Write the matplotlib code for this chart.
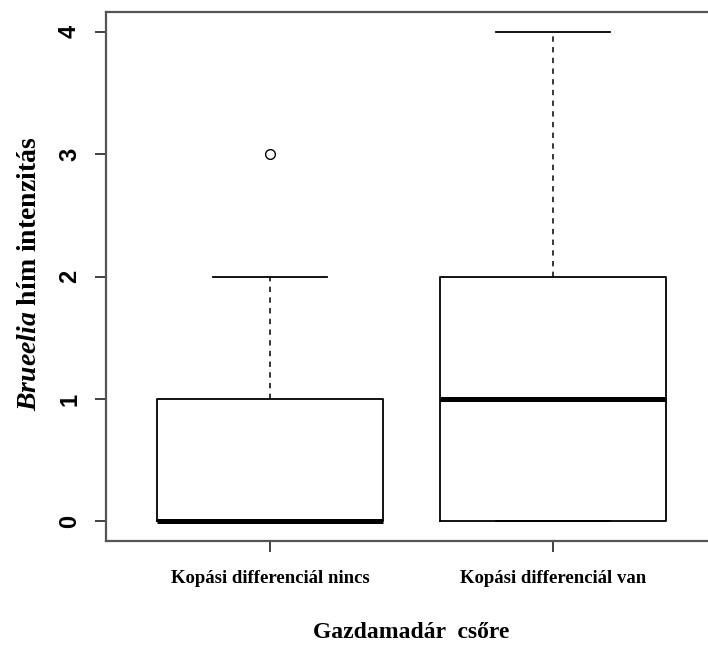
import matplotlib
matplotlib.use("Agg")
import matplotlib.pyplot as plt

# adatok (ötszámos összefoglaló csoportonként)
groups = ["Kopási differenciál nincs", "Kopási differenciál van"]
q1 = [0, 0]
median = [0, 1]
q3 = [1, 2]
whis_lo = [0, 0]
whis_hi = [2, 4]
outliers = [[3], []]
y_ticks = [0, 1, 2, 3, 4]

plt.rcParams["mathtext.fontset"] = "custom"
plt.rcParams["mathtext.bfit"] = "Liberation Serif:italic:bold"
plt.rcParams["mathtext.rm"] = "Liberation Serif:bold"

fig = plt.figure(figsize=(7.08, 6.45), dpi=100)
W, H = 708, 645
# a jobb oldali keret kilóg a képből (mint az eredetin)
ax = fig.add_axes([106 / W, (H - 541) / H, (717 - 106) / W, (541 - 12) / H])

stats = []
for i, g in enumerate(groups):
    stats.append({"label": g, "q1": q1[i], "med": median[i], "q3": q3[i],
                  "whislo": whis_lo[i], "whishi": whis_hi[i], "fliers": outliers[i]})

ax.bxp(stats, positions=[1, 2], widths=0.8, capwidths=0.4,
       boxprops=dict(color="black", linewidth=1.3),
       medianprops=dict(color="black", linewidth=3.6, solid_capstyle="butt"),
       whiskerprops=dict(color="black", linewidth=1.1, linestyle=(0, (3.5, 3.5))),
       capprops=dict(color="black", linewidth=1.3),
       flierprops=dict(marker="o", markersize=7, markerfacecolor="none",
                       markeredgecolor="black", markeredgewidth=1.0))

ax.set_xlim(0.42, 2.58)
ax.set_ylim(-0.16, 4.16)
for s in ax.spines.values():
    s.set_color("#555555")
    s.set_linewidth(1.6)

ax.set_yticks(y_ticks)
ax.set_yticklabels([str(v) for v in y_ticks], rotation=90, va="center",
                   fontfamily="Liberation Sans", fontweight="bold", fontsize=17)
ax.set_xticks([1, 2])
ax.set_xticklabels(groups, fontfamily="Liberation Serif", fontweight="bold", fontsize=13.5)
ax.tick_params(axis="y", length=8, width=1.3, color="#333333", pad=10)
ax.tick_params(axis="x", length=8, width=1.3, color="#333333", pad=13)

ax.set_ylabel(r"$\mathbfit{Brueelia}$ hím intenzitás", fontfamily="Liberation Serif",
              fontweight="bold", fontsize=20)
ax.yaxis.set_label_coords(-0.105, 0.505)
ax.set_xlabel("Gazdamadár  csőre", fontfamily="Liberation Serif",
              fontweight="bold", fontsize=17)
ax.xaxis.set_label_coords(0.5, -0.153)

fig.savefig("out.png", dpi=100)
